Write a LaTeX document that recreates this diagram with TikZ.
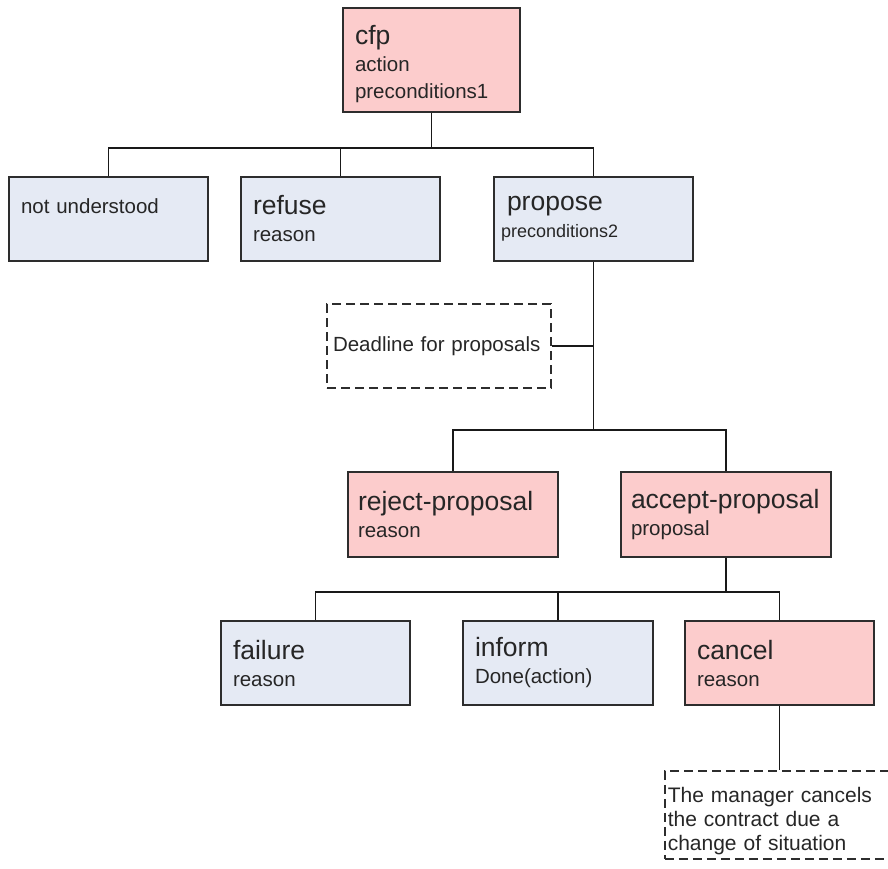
\documentclass[tikz,border=0pt]{standalone}
\usepackage{fontspec}
\setmainfont{Liberation Sans}
\usetikzlibrary{calc}

\definecolor{msgpink}{RGB}{252,204,204}
\definecolor{msgblue}{RGB}{229,234,244}
\definecolor{edgegray}{RGB}{45,45,45}

\newcommand{\actname}{\fontsize{26.5}{27}\selectfont}
\newcommand{\actarg}{\fontsize{20.5}{25}\selectfont}

\tikzset{
	msgbox/.style={draw=edgegray, line width=1.8pt, rectangle, inner xsep=12pt, inner ysep=0pt, align=left, text=black!85, font=\actarg},
	pinkbox/.style={msgbox, fill=msgpink},
	bluebox/.style={msgbox, fill=msgblue},
	notebox/.style={draw=edgegray, line width=1.5pt, dash pattern=on 9pt off 5pt, rectangle, inner ysep=0pt, align=left, text=black!85, font=\actarg},
	wire/.style={line width=1.5pt, draw=black!90},
}

\begin{document}
\begin{tikzpicture}[x=1pt, y=-1pt]
			%%%%% START %%%%%
			\useasboundingbox (0, 0) rectangle (888, 868);
			\clip (0, 0) rectangle (888, 868);
			
			% call for proposals
			\node[pinkbox, minimum width=177pt, minimum height=104pt, text width=153pt, font=\fontsize{20.5}{27}\selectfont] (cfp) at (431.5, 60)
				{{\actname\rule{0pt}{27pt}cfp}\\ action\\ preconditions1};
			
			% answers of the participants
			\node[bluebox, minimum width=199pt, minimum height=84pt, text width=175pt] (notund) at (108.5, 219)
				{not understood\\ \mbox{}};
			\node[bluebox, minimum width=199pt, minimum height=84pt, text width=175pt] (refuse) at (340.5, 219)
				{{\actname refuse}\\[2pt] reason};
			\node[bluebox, minimum width=199pt, minimum height=84pt, inner xsep=7pt, text width=185pt] (propose) at (593.5, 219)
				{{\actname\hspace*{6pt}propose}\\[2pt] {\fontsize{18}{25}\selectfont preconditions2}};
			
			\node[notebox, minimum width=224pt, minimum height=84pt, inner xsep=6pt, text width=212pt] (deadline) at (439, 346)
				{Deadline for proposals};
			
			% answers of the manager
			\node[pinkbox, minimum width=210pt, minimum height=85pt, inner xsep=10pt, text width=190pt] (reject) at (453, 514.5)
				{{\actname reject-proposal}\\[2pt] reason};
			\node[pinkbox, minimum width=210pt, minimum height=85pt, inner xsep=10pt, text width=190pt] (accept) at (726, 514.5)
				{{\actname accept-proposal}\\[2pt] proposal};
			
			% end of the contract
			\node[bluebox, minimum width=189pt, minimum height=84pt, text width=165pt] (failure) at (315.5, 663)
				{{\actname failure}\\[2pt] reason};
			\node[bluebox, minimum width=190pt, minimum height=84pt, text width=166pt] (inform) at (558, 663)
				{{\actname inform}\\[2pt] Done(action)};
			\node[pinkbox, minimum width=189pt, minimum height=84pt, text width=165pt] (cancel) at (779.5, 663)
				{{\actname cancel}\\[2pt] reason};
			
			\node[notebox, anchor=north west, minimum width=250pt, minimum height=88pt, inner xsep=3pt, text width=244pt,
				font=\fontsize{21}{24}\selectfont] (manager) at (664, 770)
				{\rule{0pt}{28pt}The manager cancels\\ the contract due a\\ change of situation};
			
			% tree lines
			\coordinate (forkA) at (431.5, 148);
			\coordinate (forkB) at (593.5, 430);
			\coordinate (forkC) at (726, 592);
			
			\draw[wire] (cfp.south) -- (forkA);
			\draw[wire] (notund.north) |- (forkA) -| (propose.north);
			\draw[wire] (refuse.north) -- (refuse.north |- forkA);
			
			\draw[wire] (propose.south) -- (forkB);
			\draw[wire] (deadline.east) -- (deadline.east -| propose.south);
			\draw[wire] (reject.north) |- (forkB) -| (accept.north);
			
			\draw[wire] (accept.south) -- (forkC);
			\draw[wire] (failure.north) |- (forkC) -| (cancel.north);
			\draw[wire] (inform.north) -- (inform.north |- forkC);
			
			\draw[wire] (cancel.south) -- (cancel.south |- manager.north);
			%%%%% END %%%%%
\end{tikzpicture}
\end{document}
